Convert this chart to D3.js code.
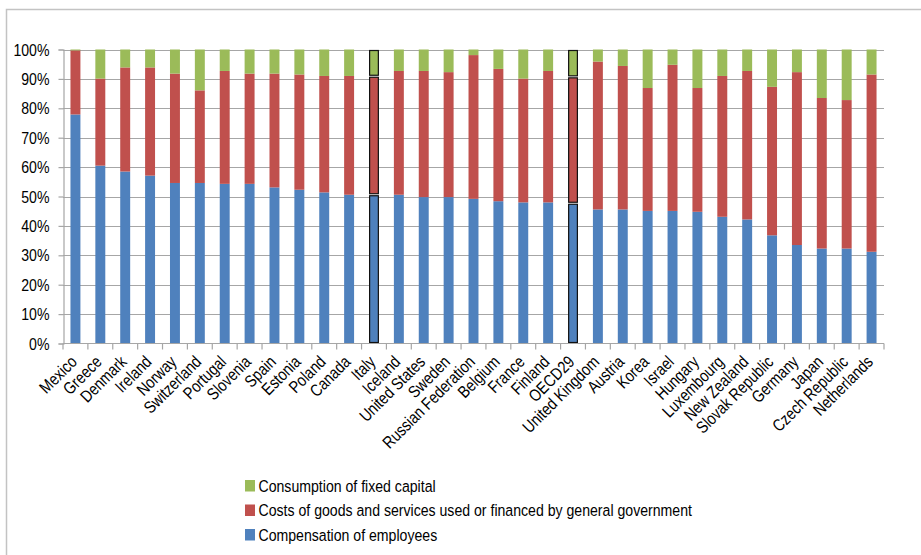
<!DOCTYPE html>
<html>
<head>
<meta charset="utf-8">
<script src="https://cdn.jsdelivr.net/npm/d3@7"></script>
<style>
  html, body { margin: 0; padding: 0; background: #fff; }
  svg { display: block; }
  text { font-family: "Liberation Sans", Arial, sans-serif; fill: #000; }
</style>
</head>
<body>
<svg id="chart" width="921" height="555"></svg>
<script>
// Countries, ordered by share of compensation of employees
const countries = [
  "Mexico", "Greece", "Denmark", "Ireland", "Norway", "Switzerland", "Portugal",
  "Slovenia", "Spain", "Estonia", "Poland", "Canada", "Italy", "Iceland",
  "United States", "Sweden", "Russian Federation", "Belgium", "France", "Finland",
  "OECD29", "United Kingdom", "Austria", "Korea", "Israel", "Hungary", "Luxembourg",
  "New Zealand", "Slovak Republic", "Germany", "Japan", "Czech Republic", "Netherlands"
];

// Shares of production costs (%)
const compensation = [
  77.9, 60.5, 58.5, 57.1, 54.6, 54.6, 54.3, 54.3, 53.1, 52.3, 51.4, 50.6, 50.6, 50.6,
  49.8, 49.8, 49.2, 48.4, 48.0, 48.0, 47.7, 45.6, 45.6, 45.1, 45.1, 44.8, 43.1,
  42.2, 36.8, 33.5, 32.3, 32.3, 31.2
];
const goodsServices = [
  21.8, 29.6, 35.4, 36.8, 37.2, 31.5, 38.4, 37.5, 38.7, 39.2, 39.6, 40.4, 40.3, 42.1,
  42.9, 42.5, 48.9, 45.0, 42.1, 44.7, 43.0, 50.3, 48.8, 41.8, 49.7, 42.1, 47.9,
  50.5, 50.5, 58.8, 51.2, 50.5, 60.3
];
const fixedCapital = [
  0.3, 9.9, 6.1, 6.1, 8.2, 13.9, 7.3, 8.2, 8.2, 8.5, 9.0, 9.0, 9.1, 7.3,
  7.3, 7.7, 1.9, 6.6, 9.9, 7.3, 9.3, 4.1, 5.6, 13.1, 5.2, 13.1, 9.0,
  7.3, 12.7, 7.7, 16.5, 17.2, 8.5
];

// Bars drawn with an outline
const highlighted = ["Italy", "OECD29"];

const yTicks = [0, 10, 20, 30, 40, 50, 60, 70, 80, 90, 100];

const seriesNames = [
  "Compensation of employees",
  "Costs of goods and services used or financed by general government",
  "Consumption of fixed capital"
];
const seriesColors = ["#4F81BD", "#C0504D", "#9BBB59"];

// Condensed lettering: glyphs squeezed horizontally
const SQUEEZE = 0.83;
const FONT = 17;

const svg = d3.select("#chart");

// Outer chart frame (only top and left edges fall inside the page)
svg.append("path")
  .attr("d", "M6.5,555 L6.5,9.5 L921,9.5")
  .attr("fill", "none")
  .attr("stroke", "#c3c3c3")
  .attr("stroke-width", 1.5);

const x = d3.scaleBand().domain(countries).range([63, 884]).paddingInner(0.6).paddingOuter(0.3);
const y = d3.scaleLinear().domain([0, 100]).range([343.5, 49.5]);

// Horizontal gridlines
svg.append("g")
  .selectAll("line")
  .data(yTicks.filter(d => d > 0))
  .join("line")
  .attr("x1", 63).attr("x2", 884)
  .attr("y1", d => Math.round(y(d)) + 0.5).attr("y2", d => Math.round(y(d)) + 0.5)
  .attr("stroke", "#a6a6a6")
  .attr("stroke-width", 1.2);

// Y axis line and ticks
const yAxis = svg.append("g").attr("transform", "translate(63.5,0)")
  .call(d3.axisLeft(y).tickValues(yTicks).tickSize(5).tickFormat(""));
yAxis.select(".domain").attr("stroke", "#a6a6a6").attr("stroke-width", 1.2);
yAxis.selectAll(".tick line").attr("stroke", "#a6a6a6").attr("stroke-width", 1.2);

// Y tick labels
svg.append("g")
  .selectAll("text")
  .data(yTicks)
  .join("text")
  .attr("transform", d => `translate(49.5,${y(d)}) scale(${SQUEEZE},1)`)
  .attr("dy", "0.36em")
  .attr("text-anchor", "end")
  .attr("font-size", FONT)
  .text(d => d + "%");

// Stacked data
const rows = countries.map((c, i) => ({
  country: c,
  s0: compensation[i],
  s1: goodsServices[i],
  s2: fixedCapital[i]
}));
const stacked = d3.stack().keys(["s0", "s1", "s2"])(rows);

const barGroups = svg.append("g")
  .selectAll("g")
  .data(stacked)
  .join("g")
  .attr("fill", (d, i) => seriesColors[i]);

barGroups.selectAll("rect")
  .data(d => d)
  .join("rect")
  .attr("x", d => x(d.data.country))
  .attr("width", x.bandwidth())
  .attr("y", d => y(d[1]))
  .attr("height", d => y(d[0]) - y(d[1]));

// Outlined bars
barGroups.each(function () {
  d3.select(this).selectAll("rect")
    .filter(d => highlighted.includes(d.data.country))
    .attr("stroke", "#111")
    .attr("stroke-width", 1.2)
    .attr("x", d => x(d.data.country) + 0.6)
    .attr("width", x.bandwidth() - 1.2)
    .attr("y", d => y(d[1]) + 1)
    .attr("height", d => Math.max(0, y(d[0]) - y(d[1]) - 2));
});

// X axis with category boundary ticks
const xAxisG = svg.append("g");
xAxisG.append("line")
  .attr("x1", 63).attr("x2", 884)
  .attr("y1", 343.5).attr("y2", 343.5)
  .attr("stroke", "#a6a6a6").attr("stroke-width", 1.2);
const step = x.step();
xAxisG.selectAll("line.tk")
  .data(d3.range(countries.length + 1))
  .join("line")
  .attr("class", "tk")
  .attr("x1", i => 63 + i * step).attr("x2", i => 63 + i * step)
  .attr("y1", 343.5).attr("y2", 349.5)
  .attr("stroke", "#a6a6a6").attr("stroke-width", 1.2);

xAxisG.selectAll("text")
  .data(countries)
  .join("text")
  .attr("transform", d => `translate(${x(d) + x.bandwidth() / 2 + 2.5},${363}) rotate(-45) scale(${SQUEEZE},1)`)
  .attr("text-anchor", "end")
  .attr("font-size", FONT)
  .text(d => d);

// Legend
const legendOrder = [2, 1, 0];
const legend = svg.append("g").attr("transform", "translate(245,0)");
legendOrder.forEach((s, k) => {
  const yy = 480 + k * 24.5;
  legend.append("rect")
    .attr("x", 0).attr("y", yy)
    .attr("width", 10).attr("height", 11.5)
    .attr("fill", seriesColors[s]);
  legend.append("text")
    .attr("transform", `translate(13.5,${yy + 11.5}) scale(${SQUEEZE},1)`)
    .attr("font-size", FONT)
    .text(seriesNames[s]);
});
</script>
</body>
</html>
